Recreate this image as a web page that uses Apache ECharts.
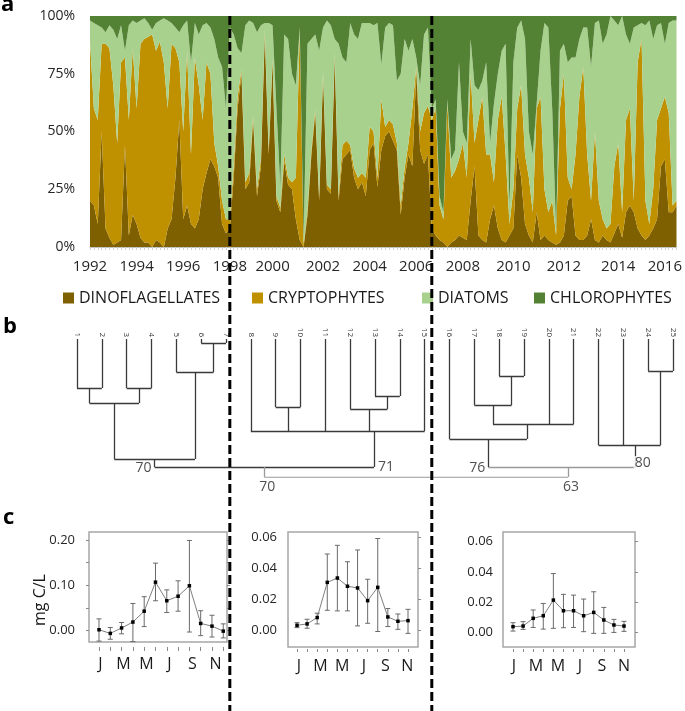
<!DOCTYPE html>
<html><head><meta charset="utf-8">
<script src="https://cdn.jsdelivr.net/npm/echarts@6/dist/echarts.min.js"></script>
<style>html,body{margin:0;padding:0;background:#fff}#c{width:685px;height:711px}</style>
</head><body><div id="c"></div>
<script>
// ---------- panel a : relative composition ----------
const blockYears = ['1992','1994','1996','1998','2000','2002','2004','2006','2008','2010','2012','2014','2016'];
const samplesPerBlock = [12,12,12,11,13,12,12,12,13,13,14,12,4];
const dino = [
20,18,10,50,8,4,1,2,3,44,
5,14,10,4,2,2,0,3,2,0,
8,12,30,55,12,18,10,8,12,25,
32,38,35,30,10,6,8,30,60,75,
25,28,55,22,35,92,40,80,20,15,
37,27,25,12,3,0,14,40,58,20,
74,25,23,82,20,38,40,42,30,25,
28,22,42,45,26,42,48,50,46,42,
14,30,40,35,76,42,36,40,8,5,
3,2,0,2,3,5,4,3,20,35,
5,3,2,12,18,8,3,2,5,8,
40,30,10,5,2,15,3,5,3,2,
1,2,5,20,22,5,3,3,5,12,
3,2,5,3,2,6,10,4,15,18,
15,8,5,3,5,8,12,35,38,15,
15,18];
const crypto = [
69,42,45,38,80,82,69,43,77,38,
50,72,50,84,88,89,92,82,87,80,
52,76,56,25,38,67,30,74,58,30,
48,37,10,5,10,6,4,5,5,2,
3,4,2,3,3,2,2,2,2,2,
3,3,3,18,90,1,2,2,2,2,
2,2,2,2,2,6,6,2,4,5,
4,8,10,5,4,22,4,5,7,3,
4,4,5,25,2,8,22,21,47,55,
15,10,62,28,30,33,41,27,55,10,
50,62,38,28,10,47,62,38,5,17,
20,40,30,25,13,45,62,20,12,18,
4,58,70,10,3,35,62,75,35,8,
47,18,7,5,8,29,35,11,40,42,
5,72,85,17,5,17,43,25,27,43,
3,2];
const diatoms = [
9,37,41,7,5,10,24,45,16,3,
41,12,37,10,9,6,2,12,9,19,
38,9,9,13,46,13,40,15,22,41,
17,20,45,47,58,48,83,57,21,7,
68,66,40,68,58,3,55,14,38,9,
52,60,47,40,2,2,72,48,32,63,
19,71,71,6,66,38,34,53,58,60,
65,67,45,46,67,15,43,42,43,27,
57,56,40,30,4,20,34,34,5,4,
4,3,2,8,9,42,5,15,15,25,
13,7,40,5,34,20,20,48,7,55,
35,28,50,20,25,2,20,72,80,40,
2,25,13,50,57,42,25,17,55,58,
47,78,76,84,90,63,51,85,37,28,
75,16,7,76,88,65,41,37,23,39,
80,78];
const chloro = [
2,3,4,5,7,4,6,10,4,15,
4,2,3,2,1,3,6,3,2,1,
2,3,5,7,4,2,20,3,8,4,
3,5,10,18,22,40,5,8,14,16,
4,2,3,7,4,3,3,4,40,74,
8,10,25,30,5,97,12,10,8,15,
5,2,4,10,12,18,20,3,8,10,
3,3,3,4,3,21,5,3,4,28,
25,10,15,10,18,30,8,5,40,36,
78,85,36,62,58,20,50,55,10,30,
32,28,20,55,38,25,15,12,83,20,
5,2,10,50,60,38,15,3,5,40,
93,15,12,20,18,18,10,5,5,22,
3,2,12,8,0,2,4,0,8,12,
5,4,3,4,2,10,4,3,12,3,
2,2];
const groupNames = ['DINOFLAGELLATES','CRYPTOPHYTES','DIATOMS','CHLOROPHYTES'];
const breakSamples = ['1998-0','2006-4'];

// ---------- panel b : dendrogram ----------
const leaves = ['1','2','3','4','5','6','7','8','9','10','11','12','13','14','15','16','17','18','19','20','21','22','23','24','25'];
const clusterNodes = [
 {id:'n1', kids:['1','2'], h:49},
 {id:'n2', kids:['3','4'], h:49},
 {id:'n3', kids:['n1','n2'], h:64},
 {id:'n4', kids:['6','7'], h:4},
 {id:'n5', kids:['5','n4'], h:33},
 {id:'n6', kids:['n3','n5'], h:120},
 {id:'n7', kids:['9','10'], h:68},
 {id:'n8', kids:['13','14'], h:57},
 {id:'n9', kids:['12','n8'], h:70},
 {id:'n10', kids:['8','n7','11','n9','15'], h:92, x:12.96},
 {id:'n11', kids:['n6','n10'], h:128},
 {id:'n12', kids:['18','19'], h:37},
 {id:'n13', kids:['17','n12'], h:66},
 {id:'n14', kids:['n13','20','21'], h:85, x:19.12},
 {id:'n15', kids:['16','n14'], h:100},
 {id:'n16', kids:['24','25'], h:32},
 {id:'n17', kids:['22','23','n16'], h:106, x:23.5},
 {id:'n18', kids:['n15','n17'], h:128, x:20.77},
 {id:'root', kids:['n11','n18'], h:138}
];
const supportLabels = [
 {node:'n6', text:'70', side:'left'},
 {node:'n10', text:'71', side:'right'},
 {node:'n15', text:'76', side:'left'},
 {node:'n17', text:'80', side:'right'},
 {node:'n11', text:'70', side:'bottom'},
 {node:'n18', text:'63', side:'bottom'}
];

// ---------- panel c : monthly biomass ----------
const months = [1,2,3,4,5,6,7,8,9,10,11,12];
const monthLabels = ['J','M','M','J','S','N'];
const mean1 = [0.002,-0.006,0.006,0.019,0.043,0.107,0.066,0.076,0.099,0.016,0.010,-0.001];
const lo1   = [-0.023,-0.019,-0.007,-0.024,0.009,0.066,0.040,0.043,-0.003,-0.011,-0.014,-0.016];
const hi1   = [0.026,0.007,0.018,0.060,0.075,0.149,0.090,0.110,0.199,0.044,0.034,0.015];
const mean2 = [0.003,0.0039,0.008,0.0307,0.0335,0.0282,0.0271,0.0189,0.0275,0.0084,0.0056,0.006];
const lo2   = [0.0015,0.0011,0.0039,0.0127,0.0123,0.0123,0.0026,0.0043,-0.001,0.0022,0.0004,-0.0022];
const hi2   = [0.0047,0.0069,0.0108,0.049,0.0546,0.044,0.0516,0.0327,0.059,0.0138,0.0103,0.0133];
const mean3 = [0.004,0.0044,0.0095,0.0112,0.0215,0.0145,0.0145,0.0112,0.0134,0.0084,0.0051,0.0044];
const lo3   = [0.0011,0.0022,0.0035,0.0024,0.0029,0.0033,0.0035,0.0007,-0.0004,-0.0004,0.0002,0.0009];
const hi3   = [0.0066,0.0073,0.015,0.0193,0.039,0.0253,0.0248,0.0222,0.027,0.0167,0.0088,0.0075];
const ticks1 = [0,0.1,0.2];
const ticks23 = [0,0.02,0.04,0.06];

// ================= build =================
const FONT = '"Open Sans", "Noto Sans", sans-serif';
const colors = ['#7f6000','#bf9000','#a9d18e','#548235'];

const categories = [];
blockYears.forEach((y,b)=>{ for(let k=0;k<samplesPerBlock[b];k++) categories.push(y+'-'+k); });

// dendrogram geometry (leaf units / height units)
const pos = {};
leaves.forEach((l,i)=>{ pos[l] = {x:i+1, h:0}; });
const parentOf = {};
clusterNodes.forEach(n=>{
  const xs = n.kids.map(k=>pos[k].x);
  const x = (n.x !== undefined) ? n.x : (xs[0] + xs[xs.length-1]) / 2;
  pos[n.id] = {x:x, h:n.h};
  n.kids.forEach(k=>{ parentOf[k] = n.id; });
});
const lightNodes = ['n18','root'];
const segs = [];
clusterNodes.forEach(n=>{
  const xs = n.kids.map(k=>pos[k].x);
  const light = lightNodes.indexOf(n.id) >= 0;
  const col = light ? '#9a9a9a' : '#3a3a3a';
  segs.push({coords:[[Math.min.apply(null,xs), n.h],[Math.max.apply(null,xs), n.h]], lineStyle:{color:col}});
  n.kids.forEach(k=>{
    const kidCol = (n.id==='root') ? '#9a9a9a' : '#3a3a3a';
    segs.push({coords:[[pos[k].x, pos[k].h],[pos[k].x, n.h]], lineStyle:{color:kidCol}});
  });
});
const labelData = supportLabels.map(s=>{
  const p = pos[s.node], par = pos[parentOf[s.node]];
  let lab;
  if (s.side==='left') lab = {position:'left', distance:2, offset:[0,1]};
  else if (s.side==='right') lab = {position:'right', distance:s.node==='n17'? -2 : 3, offset:[0, s.node==='n17'? -4 : 0]};
  else lab = {position:'bottom', distance:3, offset:[3,0]};
  return {value:[p.x, par.h], name:s.text, label:lab};
});

function errRender(params, api){
  const x = api.value(0), lo = api.value(1), hi = api.value(2);
  const t = api.coord([x, hi]), b = api.coord([x, lo]);
  const w = 2.5, st = {stroke:'#6a6a6a', lineWidth:1};
  return {type:'group', children:[
    {type:'line', shape:{x1:t[0],y1:t[1],x2:b[0],y2:b[1]}, style:st},
    {type:'line', shape:{x1:t[0]-w,y1:t[1],x2:t[0]+w,y2:t[1]}, style:st},
    {type:'line', shape:{x1:b[0]-w,y1:b[1],x2:b[0]+w,y2:b[1]}, style:st}
  ]};
}

const boxStyle = {show:true, borderColor:'#a6a6a6', borderWidth:1.5, backgroundColor:'transparent'};
const noSplit = {show:false};
const subs = [
  {grid:{left:89, top:532, width:138, height:110}, xmin:0.115, xmax:12.33, ymin:-0.025, ymax:0.2177, lab:ticks1, tick:[0,0.05,0.1,0.15,0.2], leftTick:true, labMargin:14, xOff:5, xTick:4, mMargin:14, mean:mean1, lo:lo1, hi:hi1},
  {grid:{left:288, top:532, width:130, height:115}, xmin:0.108, xmax:12.99, ymin:-0.011, ymax:0.0632, lab:ticks23, tick:ticks23, leftTick:false, labMargin:11, xOff:2, xTick:3, mMargin:11, mean:mean2, lo:lo2, hi:hi2},
  {grid:{left:503, top:532, width:132, height:115}, xmin:0.009, xmax:13.09, ymin:-0.0094, ymax:0.0664, lab:ticks23, tick:ticks23, leftTick:false, labMargin:10, xOff:2, xTick:3, mMargin:11, mean:mean3, lo:lo3, hi:hi3}
];

const grid = [
  {left:90, top:16, width:593, height:231},
  {left:77, top:339, width:596, height:138}
];
const xAxis = [
  {type:'category', gridIndex:0, data:categories, boundaryGap:false,
   axisLine:{lineStyle:{color:'#bfbfbf'}},
   axisTick:{show:true, interval:0, length:3, lineStyle:{color:'#d0d0d0'}},
   axisLabel:{interval:(i,v)=>/-0$/.test(v), formatter:v=>v.split('-')[0], fontFamily:FONT, fontSize:15, color:'#262626', margin:12},
   splitLine:noSplit},
  {type:'value', gridIndex:1, min:1, max:25, interval:1, position:'top',
   axisLine:{show:false, onZero:false}, axisTick:{show:false}, splitLine:noSplit,
   axisLabel:{rotate:90, fontSize:8, fontFamily:FONT, color:'#333', margin:2, formatter:v=>leaves[v-1]||''}}
];
const yAxis = [
  {type:'value', gridIndex:0, min:0, max:100, interval:25, axisLine:{show:false}, axisTick:{show:false}, splitLine:noSplit,
   axisLabel:{formatter:'{value}%', fontFamily:FONT, fontSize:14, color:'#262626', margin:15}},
  {type:'value', gridIndex:1, min:0, max:138, inverse:true, show:false, splitLine:noSplit}
];
const series = [];
groupNames.forEach((nm,k)=>{
  series.push({name:nm, type:'line', xAxisIndex:0, yAxisIndex:0, stack:'all', data:[dino,crypto,diatoms,chloro][k],
    symbol:'none', lineStyle:{width:0}, areaStyle:{color:colors[k], opacity:1}, itemStyle:{color:colors[k]}, z:2});
});
series.push({type:'lines', coordinateSystem:'cartesian2d', xAxisIndex:1, yAxisIndex:1, data:segs,
  lineStyle:{width:1.3, opacity:1}, silent:true, z:3});
series.push({type:'scatter', xAxisIndex:1, yAxisIndex:1, symbolSize:0, data:labelData, z:4,
  label:{show:true, formatter:p=>p.name, fontFamily:FONT, fontSize:14, color:'#222', backgroundColor:'#fff', padding:[0,1]}});

subs.forEach((s,j)=>{
  const gi = j+2;
  grid.push(Object.assign({}, s.grid, boxStyle));
  const xv = xAxis.length;
  xAxis.push({type:'value', gridIndex:gi, min:s.xmin, max:s.xmax, position:'bottom', offset:s.xOff, splitLine:noSplit,
    axisLine:{show:false, onZero:false}, axisLabel:{show:false},
    axisTick:{show:true, customValues:months, length:s.xTick, lineStyle:{color:'#8a8a8a'}}});
  xAxis.push({type:'category', gridIndex:gi, data:monthLabels, boundaryGap:true, position:'bottom',
    axisLine:{show:false, onZero:false}, axisTick:{show:false}, splitLine:noSplit,
    axisLabel:{interval:0, fontFamily:FONT, fontSize:16, color:'#1a1a1a', margin:s.mMargin}});
  const yv = yAxis.length;
  yAxis.push({type:'value', gridIndex:gi, min:s.ymin, max:s.ymax, position:'left', splitLine:noSplit,
    axisLine:{show:false, onZero:false},
    axisTick:{show:s.leftTick, customValues:s.tick, length:3, lineStyle:{color:'#8a8a8a'}},
    axisLabel:{customValues:s.lab, formatter:v=>v.toFixed(2), fontFamily:FONT, fontSize:13, color:'#262626', margin:s.labMargin}});
  yAxis.push({type:'value', gridIndex:gi, min:s.ymin, max:s.ymax, position:'right', splitLine:noSplit,
    axisLine:{show:false, onZero:false}, axisLabel:{show:false},
    axisTick:{show:true, customValues:s.tick, length:3, lineStyle:{color:'#8a8a8a'}}});
  series.push({type:'custom', xAxisIndex:xv, yAxisIndex:yv, renderItem:errRender,
    data:months.map((m,i)=>[m, s.lo[i], s.hi[i]]), encode:{x:0, y:[1,2]}, z:3});
  series.push({type:'line', xAxisIndex:xv, yAxisIndex:yv, data:months.map((m,i)=>[m, s.mean[i]]),
    symbol:'rect', symbolSize:3.5, itemStyle:{color:'#000'}, lineStyle:{color:'#7f7f7f', width:1}, z:4});
});

const legendLefts = [63, 252, 422, 534];
const legend = groupNames.map((nm,k)=>({data:[nm], left:legendLefts[k], top:290, padding:0, icon:'rect',
  itemWidth:11, itemHeight:11, selectedMode:false, textStyle:{fontFamily:FONT, fontSize:16, color:'#1a1a1a'}}));

const chart = echarts.init(document.getElementById('c'), null, {renderer:'canvas'});
chart.setOption({animation:false, backgroundColor:'#fff', grid, xAxis, yAxis, series, legend});

const sepX = breakSamples.map(c=>chart.convertToPixel({xAxisIndex:0}, c));
const graphic = [
  {type:'text', left:1, top:-6, style:{text:'a', font:'bold 22px '+FONT, fill:'#000'}},
  {type:'text', left:3, top:316, style:{text:'b', font:'bold 22px '+FONT, fill:'#000'}},
  {type:'text', left:3, top:507, style:{text:'c', font:'bold 22px '+FONT, fill:'#000'}},
  {type:'text', x:40, y:600, rotation:Math.PI/2, style:{text:'mg C/L', font:'16px '+FONT, fill:'#1a1a1a', align:'center', verticalAlign:'middle'}}
];
sepX.forEach(x=>graphic.push({type:'line', z:100, shape:{x1:x, y1:16, x2:x, y2:711},
  style:{stroke:'#000', lineWidth:3, lineDash:[9,4]}}));
chart.setOption({graphic});
</script></body></html>
